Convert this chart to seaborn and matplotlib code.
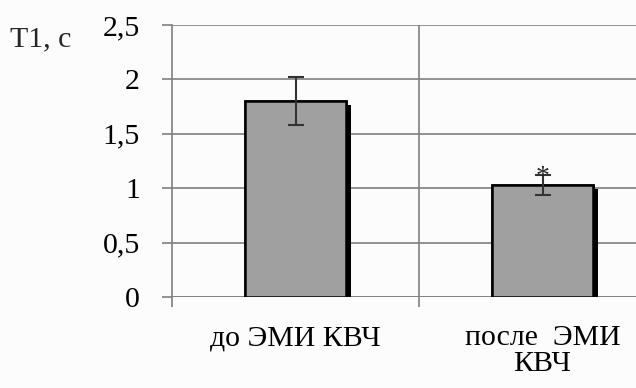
import numpy as np
import pandas as pd
import seaborn as sns
import matplotlib.pyplot as plt
import matplotlib.patheffects as pe
from matplotlib.ticker import FixedLocator

groups = ["до ЭМИ КВЧ", "после  ЭМИ\nКВЧ"]
t1_mean = [1.80, 1.03]
t1_err = [0.22, 0.09]
y_ticks = [0, 0.5, 1, 1.5, 2, 2.5]

df = pd.DataFrame({"group": groups, "T1": t1_mean})

sns.set_style("white")
plt.rcParams['font.family'] = ['Liberation Serif', 'DejaVu Serif']

fig = plt.figure(figsize=(6.36, 3.88), dpi=100, facecolor="#fcfcfc")
ax = fig.add_axes([172/636, 91/388, 494/636, 272/388])
ax.set_facecolor("#fcfcfc")

sns.barplot(data=df, x="group", y="T1", color="#a0a0a0", width=0.41,
            edgecolor="black", linewidth=1.8, saturation=1, errorbar=None, ax=ax,
            zorder=3)
for p in ax.patches:
    p.set_path_effects([pe.withSimplePatchShadow(offset=(3.5, -3), shadow_rgbFace="black",
                                                 alpha=1.0), pe.Normal()])

ax.errorbar(x=np.arange(len(groups)), y=t1_mean, yerr=t1_err, fmt="none",
            ecolor="#333333", elinewidth=1.5, capsize=6, capthick=1.5, zorder=4)
ax.text(1, t1_mean[1] + t1_err[1] - 0.02, "*", ha="center", va="center", fontsize=20,
        color="#222222", zorder=5)

ax.set_ylim(0, 2.5)
ax.set_xlim(-0.5, 1.5)
ax.yaxis.set_major_locator(FixedLocator(y_ticks))
ax.set_yticklabels([f"{v:g}".replace(".", ",") for v in y_ticks])
ax.grid(axis="y", color="#808080", linewidth=1.2, zorder=0)
ax.axvline(0.5, color="#808080", linewidth=1.2, zorder=1)
ax.set_axisbelow(True)

for s in ["top", "right", "bottom"]:
    ax.spines[s].set_visible(False)
ax.spines["left"].set_color("#808080")
ax.spines["left"].set_linewidth(1.2)
ax.axhline(0, color="#808080", linewidth=1.2, zorder=2)

ax.tick_params(axis="y", left=True, length=7, width=1.2, color="#808080",
               pad=16, labelsize=21.5, labelcolor="black")
ax.tick_params(axis="x", bottom=False, pad=17, labelsize=21.5, labelcolor="black")
for lab in ax.get_xticklabels():
    lab.set_linespacing(1.0)
ax.xaxis.set_minor_locator(FixedLocator([-0.5, 0.5, 1.5]))
ax.tick_params(axis="x", which="minor", bottom=True, length=7, width=1.2,
               color="#808080")
ax.set_xlabel("")
ax.set_ylabel("")

fig.text(10/636, 1 - 46/388, "T1, c", fontsize=21.5, va="baseline", ha="left")

fig.savefig("out.png", dpi=100, facecolor=fig.get_facecolor())
